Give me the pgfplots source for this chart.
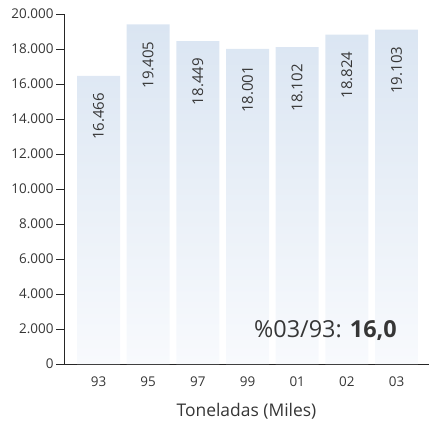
\documentclass[border=0pt]{standalone}
\usepackage{pgfplots}
\pgfplotsset{compat=1.18}
\usepackage{fontspec}
\setmainfont{Open Sans}
\definecolor{txt}{HTML}{363636}
\definecolor{bartop}{HTML}{DAE5F2}
\definecolor{barbot}{HTML}{F8FAFD}
\begin{document}
\begin{tikzpicture}
\useasboundingbox (0bp,0bp) rectangle (429bp,-428bp);
\begin{axis}[
  scale only axis,
  width=365bp, height=350bp,
  at={(64bp,-364bp)}, anchor=south west,
  xmin=-0.695, xmax=6.654,
  ymin=0, ymax=20000,
  scaled y ticks=false,
  axis x line=bottom, axis y line=left,
  axis line style={-, line width=0.9pt, color=black!85},
  xtick={0,1,2,3,4,5,6},
  xticklabels={93,95,97,99,01,02,03},
  x tick style={draw=none},
  ytick={0,2000,4000,6000,8000,10000,12000,14000,16000,18000,20000},
  yticklabels={0,2.000,4.000,6.000,8.000,10.000,12.000,14.000,16.000,18.000,20.000},
  y tick style={line width=0.9pt, color=black!85},
  tick align=outside,
  major tick length=8bp,
  ticklabel style={font=\fontsize{13.5}{15}\selectfont, text=txt},
  xticklabel style={yshift=-1bp},
  yticklabel style={xshift=1bp},
  clip=false,
]
\addplot[ybar, bar width=0.866, draw=none, shading=axis, top color=bartop, bottom color=barbot]
 coordinates {(0,16466) (1,19405) (2,18449) (3,18001) (4,18102) (5,18824) (6,19103)};
\addplot[draw=none, mark=none,
  point meta=explicit symbolic,
  nodes near coords,
  every node near coord/.style={yshift=-17bp, rotate=89.9, anchor=east, font=\fontsize{15}{17}\selectfont, text=txt, inner sep=0pt}
] coordinates {
  (0,16466) [16.466]
  (1,19405) [19.405]
  (2,18449) [18.449]
  (3,18001) [18.001]
  (4,18102) [18.102]
  (5,18824) [18.824]
  (6,19103) [19.103]
};
\end{axis}
\node[text=txt, font=\fontsize{23.5}{27}\selectfont] at (325.5bp,-331bp) {\%03/93: \textbf{16,0}};
\node[text=txt, font=\fontsize{17.5}{20}\selectfont] at (246.5bp,-411bp) {Toneladas (Miles)};
\end{tikzpicture}
\end{document}
